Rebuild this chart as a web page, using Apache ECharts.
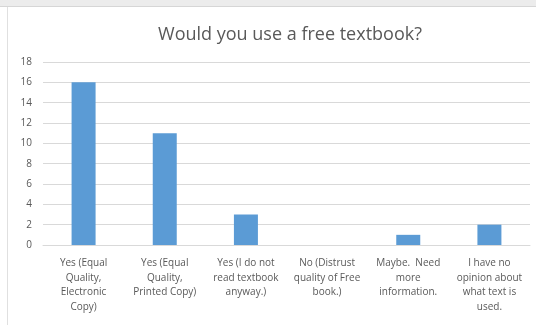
<!DOCTYPE html>
<html><head><meta charset="utf-8">
<script src="https://cdn.jsdelivr.net/npm/echarts@6/dist/echarts.min.js"></script>
<style>
html,body{margin:0;padding:0;background:#fff;}
#top{position:absolute;left:0;top:0;width:536px;height:6px;background:#ececec;border-bottom:1px solid #d6d6d6;}
#left{position:absolute;left:7px;top:7px;width:1px;height:318px;background:#e0e0e0;}
#c{position:absolute;left:0;top:0;width:536px;height:325px;}
</style></head>
<body>
<div id="c"></div>
<div id="top"></div>
<div id="left"></div>
<script>
const categories = [
  "Yes (Equal\nQuality,\nElectronic\nCopy)",
  "Yes (Equal\nQuality,\nPrinted Copy)",
  "Yes (I do not\nread textbook\nanyway.)",
  "No (Distrust\nquality of Free\nbook.)",
  "Maybe.  Need\nmore\ninformation.",
  "I have no\nopinion about\nwhat text is\nused."
];
const values = [16, 11, 3, 0, 1, 2];
const yTicks = [0, 2, 4, 6, 8, 10, 12, 14, 16, 18];

const chart = echarts.init(document.getElementById('c'), null, {renderer: 'canvas'});
chart.setOption({
  animation: false,
  title: {
    text: "Would you use a free textbook?",
    left: 285, top: 21, textAlign: 'center',
    textStyle: {fontFamily: 'Open Sans', fontSize: 18, fontWeight: 'normal', color: '#595959'}
  },
  grid: {left: 43, right: 6, top: 62, bottom: 80, containLabel: false},
  xAxis: {
    type: 'category', data: categories,
    axisLine: {lineStyle: {color: '#d9d9d9'}},
    axisTick: {show: false},
    axisLabel: {interval: 0, fontFamily: 'Open Sans', fontSize: 10, color: '#595959', lineHeight: 14.5, margin: 11}
  },
  yAxis: {
    type: 'value', min: yTicks[0], max: yTicks[yTicks.length-1], interval: 2,
    axisLine: {show: false}, axisTick: {show: false},
    splitLine: {lineStyle: {color: '#d9d9d9'}},
    axisLabel: {fontFamily: 'Open Sans', fontSize: 10, color: '#595959', margin: 11}
  },
  series: [{
    type: 'bar', data: values, barWidth: 24,
    itemStyle: {color: '#5b9bd5'}
  }]
});
</script>
</body></html>
